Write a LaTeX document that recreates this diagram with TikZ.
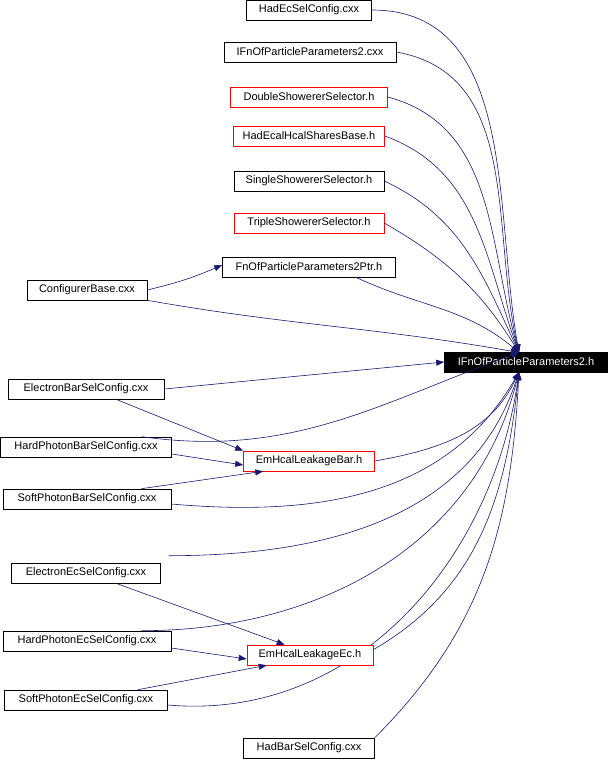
\documentclass[tikz,border=0pt]{standalone}
\usepackage{fontspec}
\setmainfont{Liberation Sans}
\usetikzlibrary{arrows.meta}
\definecolor{edge}{HTML}{191970}
\begin{document}
\begin{tikzpicture}[x=1pt,y=-1pt,
  box/.style={draw=black,fill=white,line width=0.6pt,minimum height=20pt,inner sep=2pt,font=\fontsize{11}{13}\selectfont,anchor=center},
  rbox/.style={box,draw=red},
  tgt/.style={box,fill=black,text=white},
  e/.style={draw=edge,line width=0.6pt,-{Triangle[length=8pt,width=6pt]}}]
\useasboundingbox (0,0) rectangle (610,760);
\node[box,minimum width=125pt] (hadec) at (309,10) {HadEcSelConfig.cxx};
\node[box,minimum width=172pt] (ifncxx) at (310,52) {IFnOfParticleParameters2.cxx};
\node[rbox,minimum width=157pt] (dss) at (309,97) {DoubleShowererSelector.h};
\node[rbox,minimum width=151pt] (hehs) at (309,136) {HadEcalHcalSharesBase.h};
\node[box,minimum width=150pt] (sss) at (309,181) {SingleShowererSelector.h};
\node[rbox,minimum width=150pt] (tss) at (309,223) {TripleShowererSelector.h};
\node[box,minimum width=173pt] (ptr) at (309,267) {FnOfParticleParameters2Ptr.h};
\node[box,minimum width=120pt] (cb) at (87,290) {ConfigurerBase.cxx};
\node[tgt,minimum width=163pt] (t) at (526,362) {IFnOfParticleParameters2.h};
\node[box,minimum width=156pt] (ebar) at (86,389) {ElectronBarSelConfig.cxx};
\node[box,minimum width=171pt] (hpbar) at (86,447) {HardPhotonBarSelConfig.cxx};
\node[box,minimum width=168pt] (spbar) at (87,499) {SoftPhotonBarSelConfig.cxx};
\node[box,minimum width=149pt] (eec) at (86,573) {ElectronEcSelConfig.cxx};
\node[box,minimum width=168pt] (hpec) at (87,641) {HardPhotonEcSelConfig.cxx};
\node[box,minimum width=163pt] (spec) at (86,700) {SoftPhotonEcSelConfig.cxx};
\node[box,minimum width=131pt] (hadbar) at (309,748) {HadBarSelConfig.cxx};
\coordinate (tn) at (519,352.5);
\coordinate (ts) at (519,372);
\draw[e] (hadec.east) to[out=0,in=100] (tn);
\draw[e] (ifncxx.east) to[out=-10,in=103] (tn);
\draw[e] (dss.east) to[out=-15,in=106] (tn);
\draw[e] (hehs.east) to[out=-20,in=110] (tn);
\draw[e] (sss.east) to[out=-25,in=115] (tn);
\draw[e] (tss.east) to[out=-30,in=122] (tn);
\draw[e] (ptr.south east) ++(-40,0) to[out=-25,in=140] (tn);
\draw[e] (cb.east) to[bend right=5] ([yshift=2pt]ptr.west);
\draw[e] (cb.south east) to[out=-10,in=170] (tn);
\draw[e] (ebar.east) -- (t.west);
\draw[e] (hpbar.north east) ++(-30,0) to[out=-8,in=200] (tn);
\draw[e] (spbar.east) ++(0,5) to[out=-5,in=-120] (ts);
\draw[e] (eec.north east) ++(8,-7) to[out=0,in=-108] (ts);
\draw[e] (hpec.north east) ++(-30,0) to[out=0,in=-104] (ts);
\draw[e] (spec.east) ++(0,5) to[out=-5,in=-98] (ts);
\draw[e] (hadbar.north east) to[out=45,in=-93] (ts);
\node[box,draw=red,minimum width=131pt] (embar) at (309,461) {EmHcalLeakageBar.h};
\node[box,draw=red,minimum width=126pt] (emec) at (310,655) {EmHcalLeakageEc.h};
\draw[e] (ebar.south) ++(30,0) -- (embar.north west);
\draw[e] (hpbar.east) ++(0,7) -- ([yshift=-4pt]embar.west);
\draw[e] (spbar.north east) ++(-30,0) -- ([xshift=20pt]embar.south west);
\draw[e] (embar.east) to[out=10,in=-115] (ts);
\draw[e] (eec.south) ++(30,0) -- ([xshift=38pt]emec.north west);
\draw[e] (hpec.east) ++(0,7) -- ([yshift=-4pt]emec.west);
\draw[e] (spec.north east) ++(-30,0) -- ([xshift=20pt]emec.south west);
\draw[e] (emec.north east) ++(0,5) to[out=30,in=-96] (ts);
\end{tikzpicture}
\end{document}
